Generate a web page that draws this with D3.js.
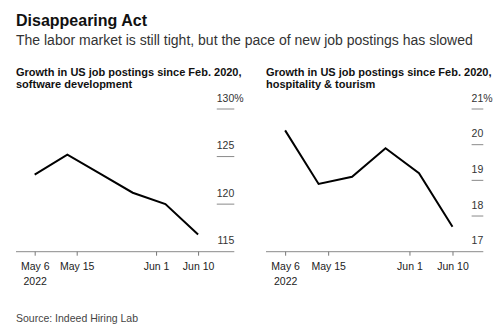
<!DOCTYPE html>
<html>
<head>
<meta charset="utf-8">
<script src="https://cdn.jsdelivr.net/npm/d3@7"></script>
<style>
  html, body { margin: 0; padding: 0; background: #fff; }
  svg { display: block; font-family: "Liberation Sans", Arial, Helvetica, sans-serif; }
</style>
</head>
<body>
<svg id="chart" width="500" height="333"></svg>
<script>
// Weekly observations, growth in US job postings since Feb. 2020 (%)
const weekDates = ["2022-05-06", "2022-05-13", "2022-05-20", "2022-05-27", "2022-06-03", "2022-06-10"];
const softwareDevelopment = [123.1, 125.2, 123.2, 121.2, 120.0, 116.8];
const hospitalityTourism = [20.4, 18.9, 19.1, 19.9, 19.2, 17.7];

// Axis ticks
const xTickDates = ["2022-05-06", "2022-05-15", "2022-06-01", "2022-06-10"];
const xTickLabels = ["May 6", "May 15", "Jun 1", "Jun 10"];
const xYearLabel = "2022";
const softwareTicks = [115, 120, 125, 130];
const hospitalityTicks = [17, 18, 19, 20, 21];

const parse = d3.utcParse("%Y-%m-%d");
const xDomain = [parse("2022-05-02"), parse("2022-06-14")];

const svg = d3.select("#chart");

svg.append("text")
  .attr("x", 16).attr("y", 26)
  .attr("font-size", 16).attr("font-weight", "bold").attr("fill", "#111")
  .text("Disappearing Act");

svg.append("text")
  .attr("x", 16).attr("y", 45)
  .attr("font-size", 14).attr("fill", "#333")
  .text("The labor market is still tight, but the pace of new job postings has slowed");

svg.append("text")
  .attr("x", 16).attr("y", 321.5)
  .attr("font-size", 10.5).attr("fill", "#444")
  .text("Source: Indeed Hiring Lab");

const panels = [
  {
    left: 16, right: 234.3,
    title: ["Growth in US job postings since Feb. 2020,", "software development"],
    values: softwareDevelopment,
    ticks: softwareTicks
  },
  {
    left: 266, right: 483.3,
    title: ["Growth in US job postings since Feb. 2020,", "hospitality & tourism"],
    values: hospitalityTourism,
    ticks: hospitalityTicks
  }
];

const plotTop = 109, plotBottom = 251.7;
const labelSize = 10.5;

panels.forEach(p => {
  const g = svg.append("g");

  // Panel title
  const t = g.append("text")
    .attr("x", p.left).attr("y", 76)
    .attr("font-size", 11).attr("font-weight", "bold").attr("fill", "#111");
  p.title.forEach((line, i) => {
    t.append("tspan").attr("x", p.left).attr("dy", i === 0 ? 0 : "1.13em").text(line);
  });

  // Width of the value-label gutter on the right
  const probe = g.append("text").attr("font-size", labelSize)
    .text(String(d3.max(p.ticks)));
  const gutter = probe.node().getComputedTextLength();
  probe.remove();
  const plotRight = p.right - gutter;

  const x = d3.scaleUtc().domain(xDomain).range([p.left, plotRight]);
  const y = d3.scaleLinear().domain(d3.extent(p.ticks)).range([plotBottom, plotTop]);

  // Short guide marks under each value label (the lowest sits on the baseline)
  g.selectAll("line.guide")
    .data(p.ticks.slice(1))
    .join("line")
    .attr("class", "guide")
    .attr("x1", plotRight).attr("x2", p.right)
    .attr("y1", d => y(d)).attr("y2", d => y(d))
    .attr("stroke", "#8a8a8a").attr("stroke-width", 1);

  // Value labels
  const maxTick = d3.max(p.ticks);
  g.selectAll("text.val")
    .data(p.ticks)
    .join("text")
    .attr("class", "val")
    .attr("x", p.right)
    .attr("y", d => y(d) - 7.5)
    .attr("text-anchor", "end")
    .attr("font-size", labelSize).attr("fill", "#333")
    .text(d => d);
  g.append("text")
    .attr("x", p.right).attr("y", y(maxTick) - 7.5)
    .attr("font-size", labelSize).attr("fill", "#333")
    .text("%");

  // Baseline
  g.append("line")
    .attr("x1", p.left).attr("x2", p.right)
    .attr("y1", plotBottom).attr("y2", plotBottom)
    .attr("stroke", "#8a8a8a").attr("stroke-width", 1);

  // Date axis
  const axis = d3.axisBottom(x)
    .tickValues(xTickDates.map(parse))
    .tickSize(4)
    .tickFormat((d, i) => xTickLabels[i]);
  const ax = g.append("g")
    .attr("transform", `translate(0,${plotBottom})`)
    .call(axis);
  ax.select(".domain").remove();
  ax.selectAll(".tick line").attr("stroke", "#777");
  ax.selectAll(".tick text")
    .attr("y", 11)
    .attr("font-size", labelSize)
    .attr("font-family", "\"Liberation Sans\", Arial, sans-serif")
    .attr("fill", "#222");
  ax.select(".tick text").each(function () {
    const label = d3.select(this);
    const txt = label.text();
    label.text(null);
    label.append("tspan").attr("x", 0).text(txt);
    label.append("tspan").attr("x", 0).attr("dy", "1.43em").text(xYearLabel);
  });

  // Series line
  const line = d3.line()
    .x((d, i) => x(parse(weekDates[i])))
    .y(d => y(d));
  g.append("path")
    .datum(p.values)
    .attr("d", line)
    .attr("fill", "none")
    .attr("stroke", "#000")
    .attr("stroke-width", 2)
    .attr("stroke-linejoin", "miter");
});
</script>
</body>
</html>
